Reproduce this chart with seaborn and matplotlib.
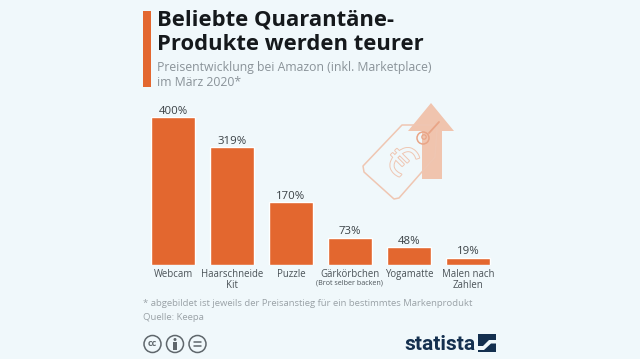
import matplotlib
matplotlib.use('Agg')
import numpy as np
import pandas as pd
import seaborn as sns
import matplotlib.pyplot as plt
import matplotlib.patheffects as pe
from matplotlib.patches import Rectangle, Polygon, Circle

categories = ['Webcam', 'Haarschneide\nKit', 'Puzzle', 'Gärkörbchen', 'Yogamatte', 'Malen nach\nZahlen']
values = [400, 319, 170, 73, 48, 19]
value_labels = ['400%', '319%', '170%', '73%', '48%', '19%']

BG = '#f0f8fb'
ORANGE = '#e3672f'
TAG = '#efc6b2'
NAVY = '#14304f'
GREY = '#5f676c'

sns.set_theme(style='white', rc={'axes.facecolor': BG, 'figure.facecolor': BG})
plt.rcParams['font.family'] = ['Open Sans', 'DejaVu Sans']

W, H = 640, 359
fig = plt.figure(figsize=(W / 100, H / 100), dpi=100)

# overlay in pixel coordinates for title block, icons, footer
ov = fig.add_axes([0, 0, 1, 1])
ov.set_xlim(0, W)
ov.set_ylim(H, 0)
ov.axis('off')

ov.add_patch(Rectangle((143, 11), 8, 76, color=ORANGE, lw=0))
ov.text(157, 20, 'Beliebte Quarantäne-', fontsize=15.8, fontweight='bold', color='#15191c', va='center')
ov.text(157, 44, 'Produkte werden teurer', fontsize=15.8, fontweight='bold', color='#15191c', va='center')
ov.text(157, 68, 'Preisentwicklung bei Amazon (inkl. Marketplace)', fontsize=8.8, color='#8a9399', va='center')
ov.text(157, 83, 'im März 2020*', fontsize=8.8, color='#8a9399', va='center')

# arrow behind price tag
ov.add_patch(Polygon([(454, 131), (431, 103), (408, 131), (422, 131), (422, 179), (442, 179), (442, 131)],
                     closed=True, color='#f0c4ae', lw=0))
# price tag
tag = Polygon([(402, 125), (435, 125), (437, 129), (435, 157), (399, 198), (394, 199), (364, 172), (363, 166)],
              closed=True, fill=False, edgecolor=TAG, lw=1.1, joinstyle='round')
ov.add_patch(tag)
ov.add_patch(Circle((423, 138), 6, fill=False, edgecolor='#e9a587', lw=1.1))
ov.add_patch(Circle((424, 137), 2.2, fill=False, edgecolor='#e9a587', lw=0.9))
ov.plot([429, 439], [133, 122], color='#e9a587', lw=1.3)
ov.text(399, 162, '€', fontsize=30, color=BG, ha='center', va='center', rotation=-45,
        path_effects=[pe.withStroke(linewidth=1.4, foreground=TAG)])

ax = fig.add_axes([143.5 / W, (H - 265) / H, 354 / W, 147.5 / H], zorder=2)
ax.patch.set_alpha(0)
df = pd.DataFrame({'Produkt': categories, 'Wert': values})
sns.barplot(data=df, x='Produkt', y='Wert', color=ORANGE, saturation=1, width=0.73, ax=ax)
ax.set_ylim(0, 400)
ax.set_xlabel('')
ax.set_ylabel('')
ax.set_yticks([])
ax.tick_params(axis='x', length=0, pad=3, labelsize=6.9, labelcolor='#4b5358')
sns.despine(ax=ax, left=True, bottom=True)
for lab in ax.get_xticklabels():
    lab.set_linespacing(1.0)
ax.bar_label(ax.containers[0], labels=value_labels, fontsize=8.2, color='#3a4145', padding=0.5)

ov.text(349.5, 283.5, '(Brot selber backen)', fontsize=5.1, color='#4b5358', ha='center', va='center')

ov.text(143, 304, '* abgebildet ist jeweils der Preisanstieg für ein bestimmtes Markenprodukt',
        fontsize=6.8, color='#9aa2a7', va='center')
ov.text(143, 317, 'Quelle: Keepa', fontsize=6.8, color='#9aa2a7', va='center')

# cc icons
for cx in [152.5, 175, 197.5]:
    ov.add_patch(Circle((cx, 344), 8.5, fill=False, edgecolor=GREY, lw=1.1))
ov.text(152.5, 343.6, 'cc', fontsize=6.5, fontweight='bold', color=GREY, ha='center', va='center')
ov.add_patch(Circle((175, 339.5), 1.5, color=GREY, lw=0))
ov.add_patch(Rectangle((173, 342), 4, 7.5, color=GREY, lw=0))
ov.plot([194, 201], [342.3, 342.3], color=GREY, lw=1.1)
ov.plot([194, 201], [345.7, 345.7], color=GREY, lw=1.1)

# statista logo
ov.text(404, 344, 'statista', fontsize=15, fontweight='bold', color=NAVY, va='center',
        family=['Roboto', 'DejaVu Sans'])
ov.add_patch(Rectangle((478, 334), 18, 17.5, color=NAVY, lw=0))
ov.add_patch(Polygon([(478, 346), (483, 346), (489, 340), (496, 340), (496, 343.5), (491, 343.5), (484, 350), (478, 350)],
                     color=BG, lw=0))

fig.savefig('out.png', dpi=100, facecolor=BG)
